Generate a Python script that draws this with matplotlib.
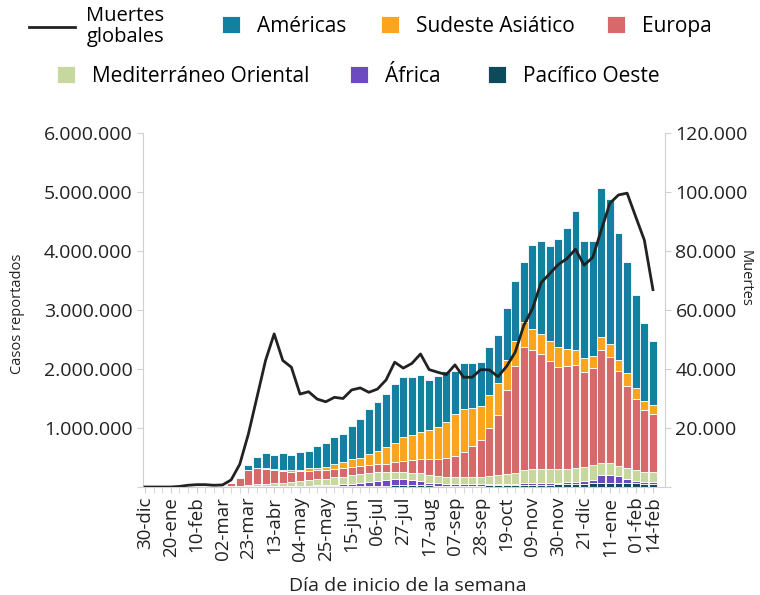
import numpy as np
import matplotlib.pyplot as plt
from matplotlib.ticker import FuncFormatter, FixedLocator

plt.rcParams['font.family'] = ['Open Sans', 'DejaVu Sans']

# weekly reported cases by WHO region (thousands), weeks from 30-dic-2019
pacifico = [0, 0, 0, 2, 12, 20, 25, 10, 6, 6, 10, 8, 8, 10, 12, 12, 10, 8, 8, 8,
            10, 10, 10, 10, 10, 12, 15, 20, 25, 30, 35, 35, 30, 30, 25, 25, 25, 25, 25, 25,
            30, 30, 35, 35, 35, 35, 40, 40, 45, 45, 45, 50, 60, 70, 70, 70, 70, 70, 45, 45]
africa = [0, 0, 0, 0, 0, 0, 0, 0, 0, 0, 0, 1, 3, 5, 6, 8, 10, 12, 15, 17,
          20, 25, 30, 35, 40, 53, 65, 90, 100, 110, 105, 85, 70, 40, 35, 25, 20, 20, 20, 20,
          15, 15, 15, 20, 25, 30, 30, 30, 30, 35, 45, 60, 65, 130, 140, 120, 70, 40, 45, 45]
mediterraneo = [0, 0, 0, 0, 0, 0, 0, 0, 0, 5, 10, 12, 20, 30, 40, 45, 50, 60, 75, 95,
                100, 105, 125, 130, 150, 150, 150, 140, 125, 110, 110, 120, 130, 130, 120, 120, 120, 125, 125, 130,
                135, 155, 170, 185, 220, 245, 240, 240, 235, 230, 230, 230, 245, 200, 200, 170, 180, 170, 170, 170]
europa = [0, 0, 0, 0, 0, 0, 0, 0, 0, 8, 50, 125, 250, 275, 255, 225, 200, 180, 170, 150,
          150, 140, 135, 155, 145, 145, 140, 135, 140, 170, 195, 220, 240, 270, 290, 330, 365, 430, 520, 625,
          820, 1020, 1430, 1810, 2100, 2020, 1940, 1820, 1730, 1740, 1750, 1610, 1640, 1930, 1790, 1610, 1400, 1210, 1040, 980]
sudeste = [0, 0, 0, 0, 0, 0, 0, 0, 0, 0, 2, 3, 5, 8, 12, 15, 18, 22, 25, 50,
           50, 65, 85, 100, 125, 140, 185, 225, 285, 325, 395, 420, 460, 490, 540, 600, 710, 730, 650, 570,
           560, 540, 500, 430, 410, 350, 350, 340, 330, 290, 260, 240, 210, 210, 220, 180, 210, 190, 160, 150]
americas = [0, 0, 0, 0, 0, 0, 0, 0, 0, 1, 3, 12, 85, 180, 245, 235, 282, 268, 297, 290,
            360, 395, 465, 470, 560, 650, 765, 830, 905, 1005, 1020, 980, 970, 860, 870, 860, 720, 770, 760, 750,
            820, 810, 890, 1010, 1020, 1420, 1570, 1620, 1830, 2050, 2350, 1980, 1950, 2530, 2460, 2150, 1880, 1570, 1320, 1080]

# global weekly deaths (thousands)
muertes = [0, 0, 0, 0, 0.2, 0.6, 0.8, 0.8, 0.6, 0.7, 2.4, 7.7, 17.9, 30.4, 42.9, 51.9, 42.9, 40.6, 31.5, 32.3,
           29.8, 28.9, 30.4, 30.0, 32.9, 33.6, 32.1, 33.2, 36.3, 42.3, 40.3, 41.9, 45.1, 39.8, 38.9, 38.1, 41.4, 37.2, 37.2, 39.8,
           39.7, 37.4, 40.9, 45.7, 54.8, 60.4, 69.2, 72.3, 75.4, 77.4, 80.6, 75.2, 77.8, 87.1, 96.2, 99.0, 99.6, 91.6, 83.7, 66.9]

tick_weeks = [0, 3, 6, 9, 12, 15, 18, 21, 24, 27, 30, 33, 36, 39, 42, 45, 48, 51, 54, 57, 59]
tick_labels = ['30-dic', '20-ene', '10-feb', '02-mar', '23-mar', '13-abr', '04-may', '25-may',
               '15-jun', '06-jul', '27-jul', '17-aug', '07-sep', '28-sep', '19-oct', '09-nov',
               '30-nov', '21-dic', '11-ene', '01-feb', '14-feb']

series = [
    ('Pacífico Oeste', pacifico, '#0c4b5b'),
    ('África', africa, '#6c4bc1'),
    ('Mediterráneo Oriental', mediterraneo, '#c6d89e'),
    ('Europa', europa, '#d66a6a'),
    ('Sudeste Asiático', sudeste, '#fba51f'),
    ('Américas', americas, '#1480a1'),
]

grey = '#d0d0d0'
ink = '#222222'
fig = plt.figure(figsize=(7.6, 5.95), dpi=100)
ax = fig.add_axes([0.188, 0.1815, 0.687, 0.595])

x = np.arange(len(americas))
bottom = np.zeros(len(x))
bars = {}
for name, vals, col in series:
    v = np.array(vals) * 1000
    bars[name] = ax.bar(x, v, bottom=bottom, width=0.92, color=col,
                        edgecolor='white', linewidth=0.6, label=name)
    bottom += v

fmt = FuncFormatter(lambda v, p: '' if v == 0 else f'{int(v):,}'.replace(',', '.'))

ax.set_xlim(-0.25, 60.4)
ax.set_ylim(0, 6000000)
ax.set_yticks(np.arange(0, 6000001, 1000000))
ax.yaxis.set_major_formatter(fmt)
ax.xaxis.set_major_locator(FixedLocator(tick_weeks))
ax.set_xticklabels(tick_labels, rotation=90)
ax.set_xticks(x, minor=True)
for s in ['top', 'right']:
    ax.spines[s].set_visible(False)
for s in ['left', 'bottom']:
    ax.spines[s].set_color(grey)
ax.tick_params(axis='both', which='both', color=grey, length=4, labelcolor=ink)
ax.tick_params(axis='y', labelsize=14)
ax.tick_params(axis='x', labelsize=13.5, pad=3)
ax.set_ylabel('Casos reportados', fontsize=10.5, color=ink, va='center')
ax.yaxis.set_label_coords(-0.24, 0.49)
ax.set_xlabel('Día de inicio de la semana', fontsize=14, color=ink, va='center')
ax.xaxis.set_label_coords(0.508, -0.28)

ax2 = ax.twinx()
line, = ax2.plot(x, np.array(muertes) * 1000, color=ink, lw=2, label='Muertes\nglobales')
ax2.set_ylim(0, 120000)
ax2.set_yticks(np.arange(0, 120001, 20000))
ax2.yaxis.set_major_formatter(fmt)
for s in ['top', 'left', 'bottom']:
    ax2.spines[s].set_visible(False)
ax2.spines['right'].set_color(grey)
ax2.tick_params(axis='y', color=grey, length=4, labelsize=14, labelcolor=ink)
ax2.set_ylabel('Muertes', fontsize=10.5, rotation=-90, color=ink, va='center')
ax2.yaxis.set_label_coords(1.153, 0.59)

# legend, one entry at a time to follow the original spacing
l0 = fig.legend([line], ['Muertes\nglobales'], loc='center left', bbox_to_anchor=(0.038, 0.955),
                frameon=False, fontsize=14.5, handlelength=2.3, handletextpad=0.55,
                borderpad=0, borderaxespad=0)
l0.get_texts()[0].set_multialignment('left')
l0.get_texts()[0].set_linespacing(1.05)
entries = [('Américas', 0.292, 0.956), ('Sudeste Asiático', 0.501, 0.956), ('Europa', 0.799, 0.956),
           ('Mediterráneo Oriental', 0.075, 0.872), ('África', 0.461, 0.872), ('Pacífico Oeste', 0.642, 0.872)]
for name, lx, ly in entries:
    fig.legend([bars[name]], [name], loc='center left', bbox_to_anchor=(lx, ly),
               frameon=False, fontsize=15, handlelength=0.87, handleheight=0.87,
               handletextpad=0.8, borderpad=0, borderaxespad=0)

fig.savefig('out.png', dpi=100, facecolor='white')
